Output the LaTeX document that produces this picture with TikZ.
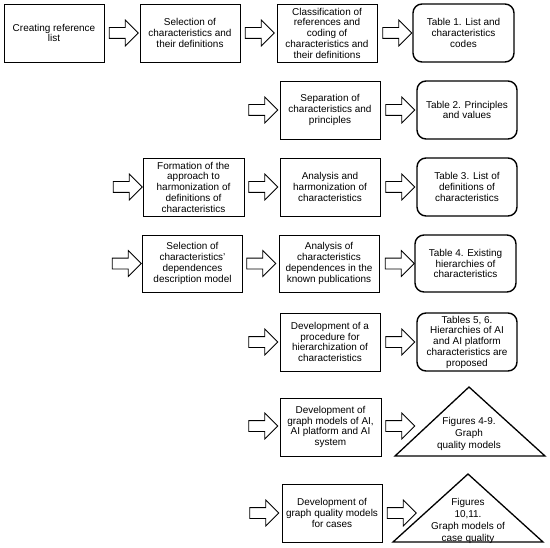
\documentclass[tikz,border=0pt]{standalone}
\usepackage{fontspec}
\setmainfont{Liberation Sans}
\usetikzlibrary{shapes.arrows}
\begin{document}
\begin{tikzpicture}[x=1bp,y=-1bp,
  txt/.style={align=center, inner sep=0pt, font=\fontsize{10}{10.8}\selectfont},
  box/.style={txt, draw, line width=0.9bp, minimum width=100bp, minimum height=58bp},
  rbox/.style={box, rounded corners=9bp, line width=1.4bp},
  barrow/.style={draw, single arrow, single arrow head extend=7.5bp, inner xsep=0pt, inner ysep=5bp,
    minimum height=29bp, line width=0.8bp},
  tri/.style={draw, line width=1.3bp, line join=miter}]
\useasboundingbox (0,0) rectangle (550,548);
% Row 1
\node[box] (b1) at (54,33) {Creating reference\\list};
\node[box] (b2) at (190,33) {Selection of\\characteristics and\\their definitions};
\node[box] (b3) at (327,33) {Classification of\\references and\\coding of\\characteristics and\\their definitions};
\node[rbox, minimum width=101bp] (r1) at (463.5,33) {Table 1. List and\\characteristics\\codes};
\node[barrow] (a11) at (121,33) {};
\node[barrow] (a12) at (257,33) {};
\node[barrow] (a13) at (394.5,33) {};
% Row 2
\node[box] (s) at (330,110) {Separation of\\characteristics and\\principles};
\node[rbox] (r2) at (467,110) {Table 2. Principles\\and values};
\node[barrow] (a21) at (260.5,110) {};
\node[barrow] (a22) at (397.5,110) {};
% Row 3
\node[box, minimum width=101bp] (f) at (193.5,187) {Formation of the\\approach to\\harmonization of\\definitions of\\characteristics};
\node[box] (ah) at (330,187) {Analysis and\\harmonization of\\characteristics};
\node[rbox] (r3) at (467,187) {Table 3. List of\\definitions of\\characteristics};
\node[barrow] (a30) at (125,187) {};
\node[barrow] (a31) at (260.5,187) {};
\node[barrow] (a32) at (397.5,187) {};
% Row 4
\node[box, minimum height=57bp] (sel) at (192.5,263.5) {Selection of\\characteristics'\\dependences\\description model};
\node[box, minimum height=57bp] (an) at (329,263.5) {Analysis of\\characteristics\\dependences in the\\known publications};
\node[rbox, minimum width=101bp, minimum height=57bp] (r4) at (465.5,263.5) {Table 4. Existing\\hierarchies of\\characteristics};
\node[barrow] (a40) at (124,263.5) {};
\node[barrow] (a41) at (258.5,263.5) {};
\node[barrow] (a42) at (397,263.5) {};
% Row 5
\node[box] (dev) at (330,342) {Development of a\\procedure for\\hierarchization of\\characteristics};
\node[rbox] (r5) at (467,342) {Tables 5, 6.\\Hierarchies of AI\\and AI platform\\characteristics are\\proposed};
\node[barrow] (a51) at (260.5,342) {};
\node[barrow] (a52) at (397.5,342) {};
% Row 6
\node[box, minimum width=101bp] (g) at (330.5,427) {Development of\\graph models of AI,\\AI platform and AI\\system};
\node[barrow] (a61) at (260.5,426) {};
\node[barrow] (a62) at (397.5,426) {};
\coordinate (t6a) at (469,387);
\coordinate (t6l) at (395,456);
\coordinate (t6r) at (545,456);
\draw[tri] (t6a) -- (t6r) -- (t6l) -- cycle;
\node[txt, font=\fontsize{10}{12}\selectfont] (t6) at (469,433.5) {Figures 4-9.\\Graph\\quality models};
% Row 7
\node[box] (c) at (332,513) {Development of\\graph quality models\\for cases};
\node[barrow] (a71) at (261.5,513) {};
\node[barrow] (a72) at (399,513) {};
\coordinate (t7a) at (468,474);
\coordinate (t7l) at (393,542);
\coordinate (t7r) at (543,542);
\draw[tri] (t7a) -- (t7r) -- (t7l) -- cycle;
\node[txt, font=\fontsize{10}{12}\selectfont] (t7) at (468,520.5) {Figures\\10,11.\\Graph models of\\case quality};
\end{tikzpicture}
\end{document}
